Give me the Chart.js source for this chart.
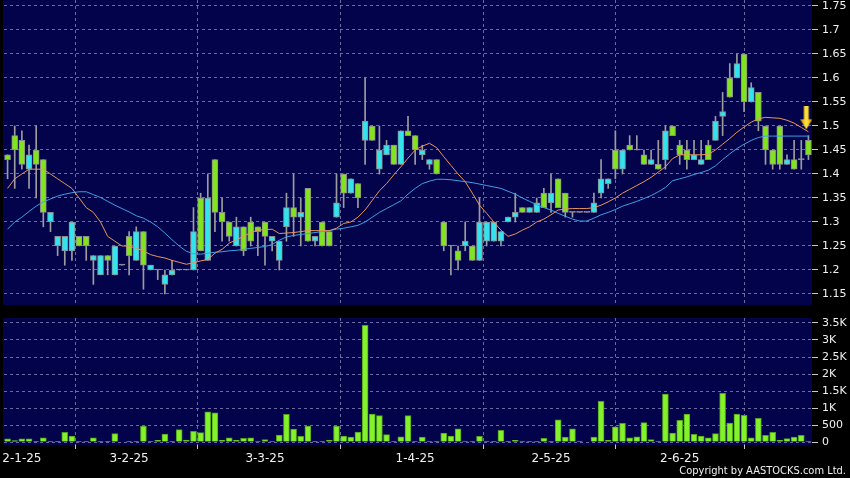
<!DOCTYPE html>
<html lang="en">
<head>
<meta charset="UTF-8">
<title>Daily candles with volume</title>
<script src="https://cdn.jsdelivr.net/npm/chart.js"></script>
<style>
  body { margin: 0; background: #000; }
  #wrap { position: relative; width: 850px; height: 478px; background: #000; overflow: hidden; }
  #priceChart { position: absolute; left: 0; top: 0; }
  #volChart { position: absolute; left: 0; top: 312px; }
  #copy { position: absolute; right: 4px; top: 464px; color: #f0f0f0;
          font: 11px 'DejaVu Sans Condensed', 'DejaVu Sans', sans-serif; }
</style>
</head>
<body>
<div id="wrap">
  <canvas id="priceChart" width="850" height="310"></canvas>
  <canvas id="volChart" width="850" height="166"></canvas>
  <div id="copy">Copyright by AASTOCKS.com Ltd.</div>
</div>
<script>
// daily OHLC, one entry per trading day
const opens  = [1.44,1.48,1.47,1.41,1.45,1.43,1.30,1.25,1.24,1.24, 1.27,1.27,1.22,1.19,1.23,1.19,1.21,1.27,1.22,1.28,
                1.20,1.20,1.17,1.19,1.20,1.20,1.20,1.35,1.22,1.43, 1.32,1.30,1.25,1.29,1.30,1.29,1.30,1.26,1.22,1.29,
                1.33,1.31,1.37,1.26,1.30,1.28,1.31,1.40,1.36,1.38, 1.47,1.50,1.41,1.44,1.46,1.42,1.49,1.48,1.44,1.42,
                1.43,1.30,1.25,1.24,1.25,1.25,1.22,1.26,1.26,1.26, 1.30,1.31,1.33,1.32,1.32,1.36,1.34,1.39,1.36,1.32,
                1.32,1.32,1.32,1.36,1.38,1.45,1.41,1.46,1.45,1.44, 1.42,1.42,1.43,1.50,1.46,1.45,1.43,1.42,1.46,1.47,
                1.52,1.60,1.60,1.65,1.55,1.57,1.50,1.45,1.50,1.42, 1.43,1.43,1.47];
const highs  = [1.44,1.50,1.49,1.46,1.50,1.43,1.32,1.27,1.27,1.30, 1.27,1.27,1.23,1.23,1.23,1.25,1.21,1.28,1.29,1.28,
                1.21,1.20,1.20,1.22,1.20,1.20,1.33,1.36,1.40,1.43, 1.35,1.30,1.31,1.29,1.31,1.29,1.30,1.27,1.26,1.36,
                1.40,1.35,1.37,1.27,1.30,1.28,1.40,1.40,1.39,1.38, 1.60,1.50,1.50,1.47,1.46,1.49,1.52,1.48,1.46,1.43,
                1.43,1.30,1.25,1.25,1.30,1.25,1.35,1.30,1.30,1.28, 1.31,1.36,1.33,1.33,1.35,1.37,1.40,1.39,1.36,1.32,
                1.32,1.32,1.36,1.43,1.39,1.49,1.45,1.48,1.48,1.45, 1.45,1.47,1.50,1.50,1.47,1.47,1.47,1.47,1.47,1.52,
                1.57,1.63,1.65,1.65,1.59,1.57,1.50,1.45,1.50,1.44, 1.47,1.47,1.48];
const lows   = [1.39,1.37,1.41,1.37,1.35,1.29,1.28,1.23,1.21,1.22, 1.25,1.22,1.17,1.19,1.19,1.19,1.21,1.19,1.22,1.16,
                1.20,1.18,1.15,1.19,1.20,1.20,1.20,1.24,1.22,1.28, 1.26,1.26,1.25,1.23,1.25,1.23,1.21,1.24,1.20,1.26,
                1.27,1.25,1.26,1.25,1.25,1.25,1.31,1.33,1.36,1.33, 1.42,1.47,1.40,1.44,1.42,1.42,1.48,1.42,1.43,1.41,
                1.40,1.24,1.19,1.20,1.24,1.22,1.22,1.25,1.26,1.25, 1.30,1.30,1.32,1.32,1.32,1.33,1.32,1.33,1.31,1.31,
                1.32,1.32,1.32,1.35,1.37,1.39,1.40,1.45,1.45,1.42, 1.42,1.41,1.41,1.48,1.42,1.41,1.43,1.42,1.43,1.47,
                1.48,1.56,1.60,1.53,1.55,1.49,1.42,1.41,1.41,1.42, 1.41,1.41,1.43];
const closes = [1.43,1.45,1.42,1.44,1.42,1.32,1.32,1.27,1.27,1.30, 1.25,1.25,1.23,1.23,1.22,1.25,1.21,1.23,1.28,1.21,
                1.21,1.20,1.19,1.20,1.20,1.20,1.28,1.24,1.35,1.32, 1.30,1.27,1.29,1.24,1.26,1.28,1.27,1.27,1.26,1.33,
                1.31,1.32,1.26,1.27,1.25,1.25,1.34,1.36,1.39,1.35, 1.51,1.47,1.45,1.46,1.42,1.49,1.48,1.45,1.45,1.43,
                1.40,1.25,1.25,1.22,1.26,1.22,1.30,1.30,1.30,1.28, 1.31,1.32,1.32,1.33,1.34,1.33,1.36,1.33,1.32,1.32,
                1.32,1.32,1.34,1.39,1.39,1.41,1.45,1.45,1.45,1.42, 1.43,1.41,1.49,1.48,1.44,1.43,1.44,1.43,1.43,1.51,
                1.53,1.56,1.63,1.55,1.58,1.51,1.45,1.42,1.42,1.43, 1.41,1.43,1.44];
// volume in thousands of shares
const volumes = [90,40,90,90,5,120,5,5,285,175, 5,20,120,5,10,245,0,10,5,470,
                 5,50,235,20,365,60,315,275,890,855, 50,125,50,110,125,30,70,10,205,815,
                 380,165,470,10,10,60,470,175,145,295, 3430,825,775,215,10,155,775,20,145,20,
                 5,265,175,390,30,10,165,30,5,345, 20,50,30,5,5,110,5,655,145,390,
                 30,0,145,1195,50,450,550,125,155,570, 70,30,1410,265,635,825,225,175,125,245,
                 1430,560,825,785,125,695,195,285,50,100, 145,195,30];
// moving averages as drawn on the chart
const ma10 = [1.37,1.39,1.40,1.41,1.41,1.41,1.40,1.39,1.38,1.37, 1.35,1.33,1.32,1.30,1.27,1.26,1.25,1.25,1.245,1.24,
              1.232,1.228,1.225,1.22,1.216,1.212,1.215,1.219,1.222,1.235, 1.243,1.256,1.263,1.27,1.278,1.283,1.284,1.285,1.276,1.277,
              1.278,1.28,1.282,1.282,1.282,1.282,1.287,1.297,1.30,1.31, 1.325,1.345,1.365,1.38,1.398,1.415,1.433,1.45,1.458,1.464,
              1.455,1.436,1.418,1.40,1.384,1.36,1.335,1.318,1.30,1.283, 1.27,1.275,1.283,1.29,1.30,1.306,1.315,1.325,1.327,1.328,
              1.328,1.328,1.33,1.335,1.342,1.35,1.36,1.368,1.376,1.384, 1.393,1.404,1.415,1.432,1.44,1.44,1.44,1.44,1.441,1.45,
              1.462,1.474,1.487,1.498,1.508,1.515,1.518,1.517,1.516,1.512, 1.506,1.497,1.488];
const ma20 = [1.285,1.30,1.31,1.322,1.333,1.342,1.348,1.354,1.358,1.361, 1.363,1.363,1.357,1.351,1.343,1.335,1.328,1.321,1.313,1.308,
              1.30,1.29,1.277,1.263,1.25,1.239,1.234,1.233,1.235,1.237, 1.238,1.24,1.241,1.243,1.245,1.247,1.249,1.253,1.262,1.269,
              1.272,1.274,1.276,1.278,1.28,1.282,1.285,1.287,1.29,1.293, 1.30,1.31,1.32,1.328,1.336,1.344,1.358,1.37,1.38,1.385,
              1.389,1.389,1.388,1.386,1.384,1.382,1.379,1.376,1.373,1.37, 1.364,1.358,1.35,1.343,1.336,1.33,1.325,1.318,1.312,1.306,
              1.302,1.302,1.308,1.315,1.32,1.326,1.333,1.338,1.343,1.349, 1.355,1.363,1.372,1.386,1.39,1.394,1.399,1.403,1.408,1.417,
              1.43,1.442,1.453,1.462,1.47,1.476,1.479,1.479,1.479,1.479, 1.479,1.479,1.479];

// first trading day of each month (index into the arrays above) and its label
const monthTicks  = [2, 17, 36, 57, 76, 94];
const monthLabels = ['2-1-25', '3-2-25', '3-3-25', '1-4-25', '2-5-25', '2-6-25'];
const priceTicks  = [1.15, 1.2, 1.25, 1.3, 1.35, 1.4, 1.45, 1.5, 1.55, 1.6, 1.65, 1.7, 1.75];
const volumeTicks = [0, 500, 1000, 1500, 2000, 2500, 3000, 3500];
// the down-arrow marker at the right end
const signalAt = { x: 111.7, y: 1.516 };

const N = closes.length;
const UP = '#33e4ee', DOWN = '#82e41e', FLAT = '#a0a0a0';
const GRID = 'rgba(125,125,175,0.85)';
const NAVY = '#03034c';

const plotBg = {
  id: 'plotBg',
  beforeDraw(chart) {
    const { ctx, chartArea: a } = chart;
    ctx.save();
    ctx.fillStyle = NAVY;
    ctx.fillRect(a.left - 1, a.top, a.right - a.left + 1, a.bottom - a.top);
    ctx.restore();
  }
};

function makeArrow() {
  const c = document.createElement('canvas');
  c.width = 12; c.height = 24;
  const g = c.getContext('2d');
  const grad = g.createLinearGradient(0, 0, 12, 0);
  grad.addColorStop(0, '#d98800');
  grad.addColorStop(0.5, '#ffea40');
  grad.addColorStop(1, '#d98800');
  g.fillStyle = grad;
  g.beginPath();
  g.moveTo(3.5, 0); g.lineTo(8.5, 0); g.lineTo(8.5, 13); g.lineTo(12, 13);
  g.lineTo(6, 23); g.lineTo(0, 13); g.lineTo(3.5, 13);
  g.closePath();
  g.fill();
  return c;
}

// no automatic padding around the axes, the panels must line up exactly
function noPad(ax) {
  ax.paddingTop = 0; ax.paddingBottom = 0; ax.paddingLeft = 0; ax.paddingRight = 0;
}

function xAxis(withLabels) {
  return {
    type: 'linear', min: -0.5, max: N - 0.5, offset: false,
    afterBuildTicks: ax => { ax.ticks = monthTicks.map(v => ({ value: v })); },
    afterFit: ax => { ax.height = withLabels ? 20 : 0; noPad(ax); },
    grid: { color: GRID, drawTicks: withLabels, tickLength: 4, tickColor: '#c8c8c8' },
    border: { display: false, dash: [3, 3] },
    ticks: {
      display: withLabels, autoSkip: false, maxRotation: 0, padding: 3, color: '#f0f0f0',
      font: { family: 'DejaVu Sans', size: 12 },
      callback: (v, i) => monthLabels[i]
    }
  };
}

function yAxis(min, max, tickValues, fmt) {
  return {
    position: 'right', min: min, max: max,
    afterBuildTicks: ax => { ax.ticks = tickValues.map(v => ({ value: v })); },
    afterFit: ax => { ax.width = 38; noPad(ax); },
    grid: { color: GRID, tickLength: 6, tickColor: '#c8c8c8' },
    border: { display: false, dash: [3, 3] },
    ticks: { padding: 4, color: '#f0f0f0', font: { family: 'DejaVu Sans', size: 11 }, callback: fmt }
  };
}

const candleColor = closes.map((c, i) => c > opens[i] ? UP : (c < opens[i] ? DOWN : FLAT));

new Chart(document.getElementById('priceChart'), {
  type: 'bar',
  data: {
    datasets: [
      {
        label: 'wick', order: 4, grouped: false, barThickness: 1,
        data: highs.map((h, i) => ({ x: i, y: [lows[i], h] })),
        backgroundColor: '#9c9c9c', borderWidth: 0
      },
      {
        label: 'body', order: 3, grouped: false, barThickness: 6, minBarLength: 1,
        data: opens.map((o, i) => ({ x: i, y: [o, closes[i]] })),
        backgroundColor: candleColor, borderColor: '#8c8c8c', borderWidth: 1, borderSkipped: false
      },
      {
        type: 'line', label: 'MA20', order: 2,
        data: ma20.map((v, i) => ({ x: i, y: v })),
        borderColor: '#3c9fe6', borderWidth: 1, pointRadius: 0, tension: 0
      },
      {
        type: 'line', label: 'MA10', order: 1,
        data: ma10.map((v, i) => ({ x: i, y: v })),
        borderColor: '#e8955a', borderWidth: 1, pointRadius: 0, tension: 0
      },
      {
        type: 'line', label: 'signal', order: 0, showLine: false,
        data: [signalAt], pointStyle: makeArrow(), pointRadius: 6
      }
    ]
  },
  options: {
    responsive: false, animation: false, devicePixelRatio: 1,
    layout: { autoPadding: false, padding: { left: 4, top: 0, right: 0, bottom: 5 } },
    plugins: { legend: { display: false }, tooltip: { enabled: false } },
    scales: {
      x: xAxis(false),
      y: yAxis(1.12708, 1.7625, priceTicks, v => String(+v.toFixed(2)))
    }
  },
  plugins: [plotBg]
});

new Chart(document.getElementById('volChart'), {
  type: 'bar',
  data: {
    datasets: [{
      label: 'volume', barThickness: 6,
      data: volumes.map((v, i) => ({ x: i, y: v })),
      backgroundColor: '#84f22a', borderColor: '#4f9e1c', borderWidth: 1, borderSkipped: 'bottom'
    }]
  },
  options: {
    responsive: false, animation: false, devicePixelRatio: 1,
    layout: { autoPadding: false, padding: { left: 4, top: 6, right: 0, bottom: 13 } },
    plugins: { legend: { display: false }, tooltip: { enabled: false } },
    scales: {
      x: xAxis(true),
      y: yAxis(-88, 3647, volumeTicks, v => v >= 1000 ? (v / 1000) + 'K' : String(v))
    }
  },
  plugins: [plotBg]
});
</script>
</body>
</html>
